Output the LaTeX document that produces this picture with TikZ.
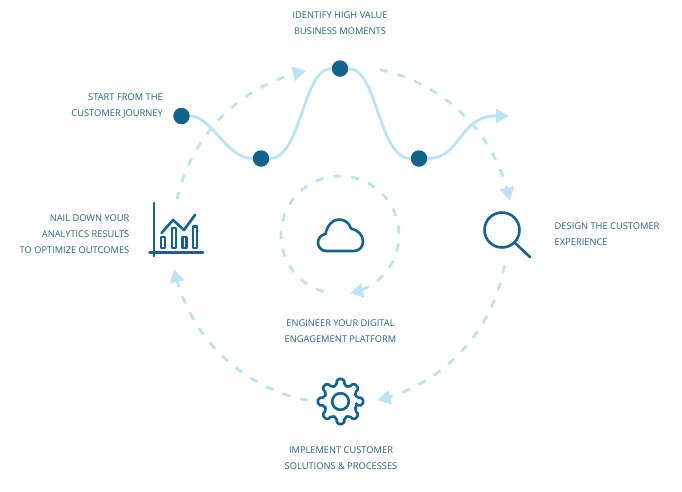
\documentclass[tikz,border=0pt]{standalone}
\usepackage{fontspec}
\setmainfont{Open Sans}
\usetikzlibrary{arrows.meta}
\definecolor{lightb}{HTML}{BCE2F6}
\definecolor{darkb}{HTML}{14638C}
\definecolor{textb}{HTML}{24637F}
\tikzset{
  lab/.style={text=textb,font=\fontsize{9.3}{16}\selectfont,inner sep=0pt},
  tipb/.style={-{Triangle[length=13pt,width=15pt,fill=lightb,line width=0pt,sep=0pt]}},
  flow/.style={lightb,line width=2.8pt,dash pattern=on 8pt off 10pt,tipb},
  wave/.style={lightb,line width=2.8pt},
  dot/.style={circle,fill=darkb,minimum size=16.5pt,inner sep=0pt},
  icon/.style={darkb,line width=2.6pt,line cap=round,line join=round},
  thinicon/.style={darkb,line width=2.6pt,line join=round}
}
\begin{document}
\begin{tikzpicture}[x=1pt,y=-1pt]
\useasboundingbox (0,0) rectangle (682,491);
\fill[white] (0,0) rectangle (682,491);
% dashed cycle
\draw[flow] plot[smooth,samples=40,domain=192:258.2,variable=\t] ({340+166.5*cos(\t)},{234+166.5*sin(\t)});
\draw[flow] plot[smooth,samples=40,domain=282:348.5,variable=\t] ({345+168*cos(\t)},{234+168*sin(\t)});
\draw[flow] plot[smooth,samples=40,domain=10:76.5,variable=\t] ({338+169*cos(\t)},{236+169*sin(\t)});
\draw[flow] plot[smooth,samples=40,domain=101:168,variable=\t] ({340+169.5*cos(\t)},{234+169.5*sin(\t)});
\draw[flow] plot[smooth,samples=60,domain=106:440,variable=\t] ({340+59*cos(\t)},{235+59*sin(\t)});
% wave
\node[dot] (d1) at (181.5,116) {};
\node[dot] (d2) at (261,158.5) {};
\node[dot] (d3) at (340,68.5) {};
\node[dot] (d4) at (419,158.5) {};
\coordinate (wend) at (509,116);
\draw[wave] (d1) .. controls (212,116) and (226,158.5) .. (d2);
\draw[wave] (d2) .. controls (302,158.5) and (302,68.5) .. (d3);
\draw[wave] (d3) .. controls (378,68.5) and (378,158.5) .. (d4);
\draw[wave,tipb] (d4) .. controls (462,158.5) and (458,116) .. (wend);
% magnifier
\draw[icon] (502,230) circle[radius=17.5];
\draw[icon] (514.5,242.5) -- (530,257);
% gear
\begin{scope}[shift={(340.5,401.5)}]
\draw[icon,rounded corners=2pt] (-14:16.5pt) \foreach \a in {0,45,...,315} { -- ({\a-14}:16.5pt) -- ({\a-9}:22.8pt) -- ({\a+9}:22.8pt) -- ({\a+14}:16.5pt) } -- cycle;
\draw[icon] (0,0) circle[radius=8.3];
\end{scope}
% cloud
\draw[icon] (326,251) .. controls (321,251) and (318,246.5) .. (318,242.5) .. controls (318,238.5) and (321,234.5) .. (325.5,234) .. controls (327,226) and (332,219.5) .. (339,219.5) .. controls (345,219.5) and (349,223) .. (351,228.5) .. controls (358,230) and (363,235) .. (363,241.5) .. controls (363,247) and (359,251) .. (354,251) -- cycle;
% chart
\draw[icon] (154,203) -- (154,256);
\draw[icon] (149.5,252.7) -- (203,252.7);
\draw[thinicon] (161,237) rectangle (164.8,248);
\draw[thinicon] (172,228) rectangle (175.8,248);
\draw[thinicon] (182.5,237) rectangle (186.3,248);
\draw[thinicon] (193,226.5) rectangle (196.8,248);
\draw[thinicon,line cap=round] (161.5,233) -- (173,220) -- (184,230) -- (195,215);
% labels
\node[lab,align=center] (l1) at (340,23) {IDENTIFY HIGH VALUE\\BUSINESS MOMENTS};
\node[lab,align=right,anchor=east] (l2) at (163,106) {START FROM THE\\CUSTOMER JOURNEY};
\node[lab,align=left,anchor=west] (l3) at (554.5,234) {DESIGN THE CUSTOMER\\EXPERIENCE};
\node[lab,align=right,anchor=east] (l4) at (129.5,234) {NAIL DOWN YOUR\\ANALYTICS RESULTS\\TO OPTIMIZE OUTCOMES};
\node[lab,align=center] (l5) at (340.5,331) {ENGINEER YOUR DIGITAL\\ENGAGEMENT PLATFORM};
\node[lab,align=center] (l6) at (341,458) {IMPLEMENT CUSTOMER\\SOLUTIONS \& PROCESSES};
\end{tikzpicture}
\end{document}
